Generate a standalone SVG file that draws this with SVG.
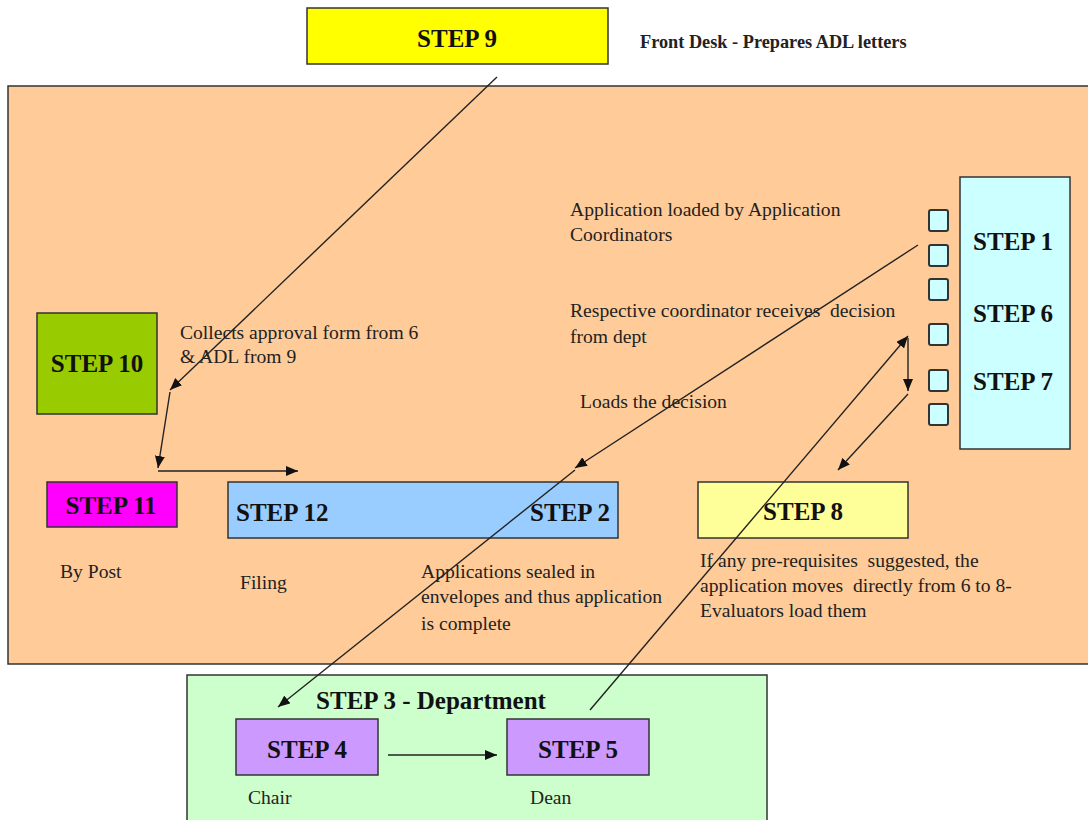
<svg xmlns="http://www.w3.org/2000/svg" width="1088" height="820" viewBox="0 0 1088 820" xml:space="preserve">
<style>
.box{stroke:#333;stroke-width:1.5}
.lbl{font-family:"Liberation Serif","Times New Roman",serif;font-weight:bold;font-size:25px;fill:#111}
.txt{font-family:"Liberation Serif","Times New Roman",serif;font-size:19.6px;fill:#222;white-space:pre}
.con{stroke:#222;stroke-width:1.4;fill:none;marker-end:url(#ah)}
.sq{fill:#CCFFFF;stroke:#333;stroke-width:2}
</style>
<defs>
<marker id="ah" markerUnits="userSpaceOnUse" markerWidth="12" markerHeight="10" refX="12" refY="5" orient="auto">
<path d="M0,0 L12,5 L0,10 z" fill="#111"/>
</marker>
</defs>
<rect width="1088" height="820" fill="#fff"/>
<g id="main-area">
<rect x="8" y="86" width="1090" height="578" fill="#FFCC99" class="box"/>
</g>
<g id="step9">
<rect x="307" y="8" width="301" height="56" fill="#FFFF00" class="box"/>
<text x="457" y="47" class="lbl" text-anchor="middle">STEP 9</text>
</g>
<text x="640" y="48" class="txt" style="font-weight:bold;font-size:18.3px">Front Desk - Prepares ADL letters</text>
<g id="step1-6-7">
<rect x="960" y="177" width="110" height="272" fill="#CCFFFF" class="box"/>
<text x="1013" y="250" class="lbl" text-anchor="middle">STEP 1</text>
<text x="1013" y="322" class="lbl" text-anchor="middle">STEP 6</text>
<text x="1013" y="390" class="lbl" text-anchor="middle">STEP 7</text>
</g>
<g id="squares">
<rect x="929" y="210" width="19" height="21" rx="2" class="sq"/>
<rect x="929" y="245" width="19" height="21" rx="2" class="sq"/>
<rect x="929" y="279" width="19" height="21" rx="2" class="sq"/>
<rect x="929" y="324" width="19" height="21" rx="2" class="sq"/>
<rect x="929" y="370" width="19" height="21" rx="2" class="sq"/>
<rect x="929" y="404" width="19" height="21" rx="2" class="sq"/>
</g>
<g id="step10">
<rect x="37" y="313" width="120" height="101" fill="#99CC00" class="box"/>
<text x="97" y="372" class="lbl" text-anchor="middle">STEP 10</text>
</g>
<g id="step11">
<rect x="47" y="482" width="130" height="45" fill="#FF00FF" class="box"/>
<text x="111" y="514" class="lbl" text-anchor="middle">STEP 11</text>
</g>
<g id="step12-2">
<rect x="228" y="482" width="390" height="56" fill="#99CCFF" class="box"/>
<text x="236" y="521" class="lbl">STEP 12</text>
<text x="610" y="521" class="lbl" text-anchor="end">STEP 2</text>
</g>
<g id="step8">
<rect x="698" y="482" width="210" height="56" fill="#FFFF99" class="box"/>
<text x="803" y="520" class="lbl" text-anchor="middle">STEP 8</text>
</g>
<g id="step3">
<rect x="187" y="675" width="580" height="160" fill="#CCFFCC" class="box"/>
<text x="431" y="709" class="lbl" text-anchor="middle">STEP 3 - Department</text>
</g>
<g id="step4">
<rect x="236" y="719" width="142" height="56" fill="#CC99FF" class="box"/>
<text x="307" y="758" class="lbl" text-anchor="middle">STEP 4</text>
</g>
<g id="step5">
<rect x="507" y="719" width="142" height="56" fill="#CC99FF" class="box"/>
<text x="578" y="758" class="lbl" text-anchor="middle">STEP 5</text>
</g>
<g id="texts">
<text x="570" y="216" class="txt">Application loaded by Application</text>
<text x="570" y="241" class="txt">Coordinators</text>
<text x="570" y="317" class="txt">Respective coordinator receives  decision</text>
<text x="570" y="343" class="txt">from dept</text>
<text x="580" y="408" class="txt">Loads the decision</text>
<text x="180" y="339" class="txt">Collects approval form from 6</text>
<text x="180" y="363" class="txt">&amp; ADL from 9</text>
<text x="60" y="578" class="txt">By Post</text>
<text x="240" y="589" class="txt">Filing</text>
<text x="421" y="578" class="txt">Applications sealed in</text>
<text x="421" y="603" class="txt">envelopes and thus application</text>
<text x="421" y="630" class="txt">is complete</text>
<text x="700" y="567" class="txt">If any pre-requisites  suggested, the</text>
<text x="700" y="592" class="txt">application moves  directly from 6 to 8-</text>
<text x="700" y="617" class="txt">Evaluators load them</text>
<text x="248" y="804" class="txt">Chair</text>
<text x="530" y="804" class="txt">Dean</text>
</g>
<g id="connectors">
<path class="con" d="M497,77 L170,390"/>
<path class="con" d="M170,392 L158,468"/>
<path class="con" d="M158,471 L298,471"/>
<path class="con" d="M918,245 L575,468"/>
<path class="con" d="M575,470 L278,707"/>
<path class="con" d="M590,710 L908,336"/>
<path class="con" d="M908,338 L908,391"/>
<path class="con" d="M908,394 L838,470"/>
<path class="con" d="M388,755 L497,755"/>
</g>
</svg>
